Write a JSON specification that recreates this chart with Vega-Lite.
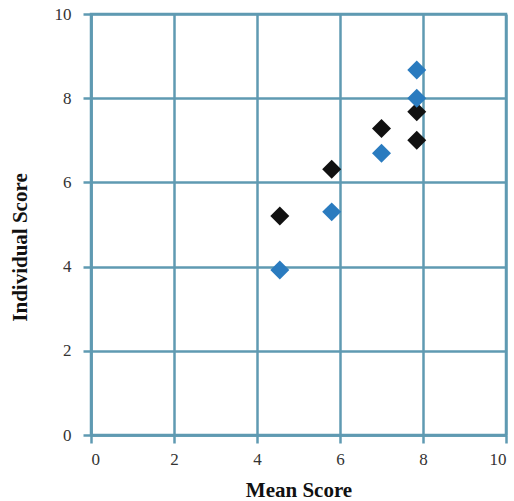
{
  "$schema": "https://vega.github.io/schema/vega-lite/v6.json",
  "width": 415,
  "height": 421,
  "autosize": {"type": "none"},
  "padding": {"left": 91, "top": 14, "right": 8, "bottom": 66},
  "background": "white",
  "config": {
    "view": {"stroke": "#5f9ab2", "strokeWidth": 2.5},
    "font": "Liberation Serif"
  },
  "data": {
    "values": [
      {"mean": 4.55, "score": 5.2, "group": "black"},
      {"mean": 5.8, "score": 6.31, "group": "black"},
      {"mean": 7.0, "score": 7.28, "group": "black"},
      {"mean": 7.85, "score": 7.68, "group": "black"},
      {"mean": 7.85, "score": 7.0, "group": "black"},
      {"mean": 4.55, "score": 3.92, "group": "blue"},
      {"mean": 5.8, "score": 5.3, "group": "blue"},
      {"mean": 7.0, "score": 6.69, "group": "blue"},
      {"mean": 7.85, "score": 8.0, "group": "blue"},
      {"mean": 7.85, "score": 8.67, "group": "blue"}
    ]
  },
  "mark": {"type": "point", "shape": "diamond", "filled": true, "size": 360, "opacity": 1},
  "encoding": {
    "x": {
      "field": "mean", "type": "quantitative",
      "scale": {"domain": [0, 10], "nice": false, "zero": true},
      "axis": {
        "values": [0, 2, 4, 6, 8, 10],
        "title": "Mean Score",
        "titleFont": "Liberation Serif", "titleFontSize": 21, "titleFontWeight": "bold", "titleColor": "#111",
        "titleBaseline": "middle", "titleY": 55,
        "labelFont": "Liberation Serif", "labelFontSize": 17, "labelColor": "#333", "labelPadding": 8,
        "grid": true, "gridColor": "#5f9ab2", "gridWidth": 2.5, "gridOpacity": 1,
        "domainColor": "#5f9ab2", "domainWidth": 2.5,
        "tickColor": "#5f9ab2", "tickWidth": 2.5, "tickSize": 8
      }
    },
    "y": {
      "field": "score", "type": "quantitative",
      "scale": {"domain": [0, 10], "nice": false, "zero": true},
      "axis": {
        "values": [0, 2, 4, 6, 8, 10],
        "title": "Individual Score",
        "titleFont": "Liberation Serif", "titleFontSize": 21, "titleFontWeight": "bold", "titleColor": "#111",
        "titleAngle": -90, "titleBaseline": "middle", "titleAlign": "center", "titleX": -71, "titleY": 233,
        "labelFont": "Liberation Serif", "labelFontSize": 17, "labelColor": "#333", "labelPadding": 12,
        "grid": true, "gridColor": "#5f9ab2", "gridWidth": 2.5, "gridOpacity": 1,
        "domainColor": "#5f9ab2", "domainWidth": 2.5,
        "tickColor": "#5f9ab2", "tickWidth": 2.5, "tickSize": 8
      }
    },
    "color": {
      "field": "group", "type": "nominal",
      "scale": {"domain": ["black", "blue"], "range": ["#111111", "#2a7bbf"]},
      "legend": null
    }
  }
}
